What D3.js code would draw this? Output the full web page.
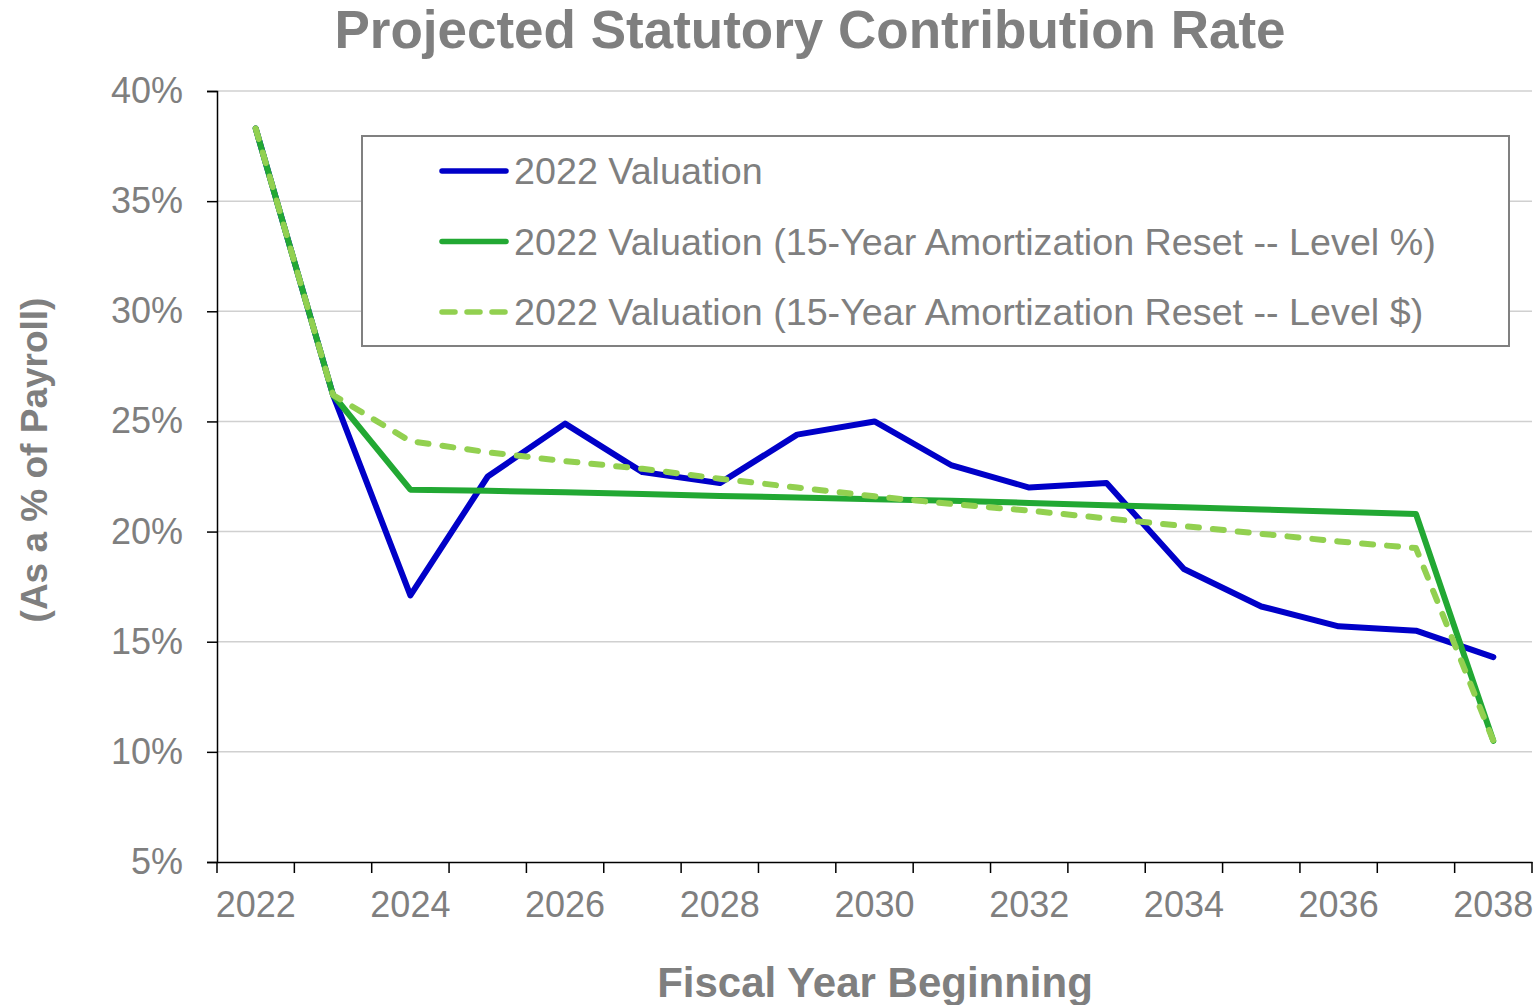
<!DOCTYPE html>
<html>
<head>
<meta charset="utf-8">
<script src="https://cdn.jsdelivr.net/npm/d3@7"></script>
<style>
  body { margin: 0; background: #fff; }
  text { font-family: "Liberation Sans", Arial, sans-serif; fill: #7f7f7f; }
</style>
</head>
<body>
<div id="chart"></div>
<script>
// Fiscal years shown on the category axis
var years = [2022, 2023, 2024, 2025, 2026, 2027, 2028, 2029, 2030, 2031, 2032, 2033, 2034, 2035, 2036, 2037, 2038];

// Contribution rate, % of payroll
var valuation = [38.3, 26.2, 17.1, 22.5, 24.9, 22.7, 22.2, 24.4, 25.0, 23.0, 22.0, 22.2, 18.3, 16.6, 15.7, 15.5, 14.3];
var levelPct = [38.3, 26.2, 21.9, 21.85, 21.78, 21.7, 21.62, 21.55, 21.47, 21.4, 21.3, 21.2, 21.1, 21.0, 20.9, 20.8, 10.5];
var levelDollar = [38.3, 26.2, 24.1, 23.6, 23.2, 22.85, 22.4, 22.0, 21.6, 21.25, 20.95, 20.6, 20.25, 19.9, 19.55, 19.25, 10.5];

var seriesNames = [
    "2022 Valuation",
    "2022 Valuation (15-Year Amortization Reset -- Level %)",
    "2022 Valuation (15-Year Amortization Reset -- Level $)"
];
var yTicks = [5, 10, 15, 20, 25, 30, 35, 40];

var series = [
    { name: seriesNames[0], values: valuation, color: "#0000c8", dash: null },
    { name: seriesNames[1], values: levelPct, color: "#22a833", dash: null },
    { name: seriesNames[2], values: levelDollar, color: "#92d050", dash: "11,14" }
];

var width = 1537, height = 1005;
var margin = { top: 91, right: 5, bottom: 143, left: 217 };

var svg = d3.select("#chart")
    .append("svg")
    .attr("width", width)
    .attr("height", height);

// Scales: band for the category boundaries, point for the line vertices
var xBand = d3.scaleBand()
    .domain(years)
    .range([margin.left, width - margin.right])
    .padding(0);

var x = d3.scalePoint()
    .domain(years)
    .range([margin.left, width - margin.right])
    .padding(0.5);

var y = d3.scaleLinear()
    .domain([5, 40])
    .range([height - margin.bottom, margin.top]);

// horizontal gridlines
svg.append("g")
    .selectAll("line")
    .data(yTicks.slice(1))
    .enter()
    .append("line")
    .attr("x1", margin.left)
    .attr("x2", width - margin.right)
    .attr("y1", d => y(d))
    .attr("y2", d => y(d))
    .attr("stroke", "#d0d0d0")
    .attr("stroke-width", 1.5);

// y axis
var yAxis = svg.append("g")
    .attr("transform", "translate(" + margin.left + ",0)")
    .call(d3.axisLeft(y).tickValues(yTicks).tickSize(10).tickPadding(24).tickFormat(d => d + "%"));
yAxis.selectAll("text").style("font-size", "36px").attr("fill", "#7f7f7f");
yAxis.select(".domain").attr("stroke", "#000").attr("stroke-width", 1.5);
yAxis.selectAll(".tick line").attr("stroke", "#000").attr("stroke-width", 1.5);

// x axis: labels every other year, ticks on category edges
var xAxis = svg.append("g")
    .attr("transform", "translate(0," + y(5) + ")")
    .call(d3.axisBottom(xBand).tickSize(0).tickPadding(29)
        .tickFormat(d => (d % 2 == 0 ? d : "")));
xAxis.selectAll("text").style("font-size", "36px").attr("fill", "#7f7f7f");
xAxis.select(".domain").attr("stroke", "#000").attr("stroke-width", 1.5);

var edges = years.map(d => xBand(d)).concat([xBand.range()[1]]);
xAxis.selectAll(".edge")
    .data(edges)
    .enter()
    .append("line")
    .attr("class", "edge")
    .attr("x1", d => d)
    .attr("x2", d => d)
    .attr("y1", 0)
    .attr("y2", 11)
    .attr("stroke", "#000")
    .attr("stroke-width", 1.5);

// the three series
var line = d3.line()
    .x((d, i) => x(years[i]))
    .y(d => y(d));

svg.append("g")
    .selectAll("path")
    .data(series)
    .enter()
    .append("path")
    .attr("d", d => line(d.values))
    .attr("fill", "none")
    .attr("stroke", d => d.color)
    .attr("stroke-width", 6)
    .attr("stroke-linejoin", "round")
    .attr("stroke-linecap", "round")
    .attr("stroke-dasharray", d => d.dash);

// legend box
var legend = svg.append("g");
legend.append("rect")
    .attr("x", 362)
    .attr("y", 136)
    .attr("width", 1147)
    .attr("height", 210)
    .attr("fill", "#fff")
    .attr("stroke", "#808080")
    .attr("stroke-width", 2);

var entries = legend.selectAll(".entry")
    .data(series)
    .enter()
    .append("g")
    .attr("class", "entry")
    .attr("transform", (d, i) => "translate(440," + (171 + i * 70.5) + ")");

entries.append("line")
    .attr("x1", 2)
    .attr("x2", 66)
    .attr("stroke", d => d.color)
    .attr("stroke-width", 5.5)
    .attr("stroke-linecap", "round")
    .attr("stroke-dasharray", d => (d.dash ? "13,12" : null));

entries.append("text")
    .attr("x", 74)
    .attr("dy", "0.35em")
    .style("font-size", "37.7px")
    .text(d => d.name);

// titles
svg.append("text")
    .attr("x", 810)
    .attr("y", 48)
    .attr("text-anchor", "middle")
    .style("font-size", "53px")
    .style("font-weight", "bold")
    .text("Projected Statutory Contribution Rate");

svg.append("text")
    .attr("x", 875)
    .attr("y", 997)
    .attr("text-anchor", "middle")
    .style("font-size", "42px")
    .style("font-weight", "bold")
    .text("Fiscal Year Beginning");

svg.append("text")
    .attr("transform", "translate(47,460) rotate(-90)")
    .attr("text-anchor", "middle")
    .style("font-size", "37px")
    .style("font-weight", "bold")
    .text("(As a % of Payroll)");
</script>
</body>
</html>
